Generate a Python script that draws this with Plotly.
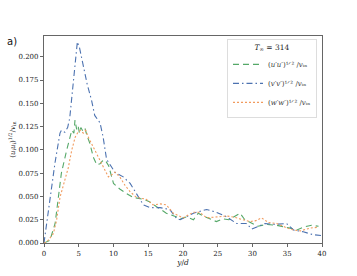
import plotly.graph_objects as go

# u'u' (green, dashed)
x_u = [0.0, 0.86, 1.6, 2.06, 2.5, 3.27, 3.74, 4.0, 4.3, 4.46, 4.7, 4.9, 5.1, 5.3, 5.6, 5.9, 6.2, 6.6, 7.1, 7.6, 8.06, 8.4, 8.8, 9.3, 10.0, 10.9, 11.9, 12.8, 14.3, 15.25, 16.2, 17.6, 19.1, 19.6, 20.5, 21.5, 22.2, 22.9, 24.8, 25.7, 26.6, 28.2, 28.9, 29.9, 30.8, 32.0, 33.5, 35.4, 36.4, 37.3, 38.5, 39.5]
y_u = [0.0, 0.003, 0.021, 0.049, 0.075, 0.100, 0.114, 0.121, 0.118, 0.132, 0.122, 0.126, 0.118, 0.124, 0.120, 0.123, 0.115, 0.107, 0.092, 0.084, 0.085, 0.088, 0.089, 0.083, 0.064, 0.058, 0.053, 0.049, 0.047, 0.044, 0.039, 0.032, 0.028, 0.026, 0.028, 0.025, 0.032, 0.029, 0.023, 0.026, 0.025, 0.032, 0.025, 0.021, 0.018, 0.020, 0.019, 0.016, 0.014, 0.017, 0.019, 0.018]

# v'v' (blue, dash-dot)
x_v = [0.0, 0.86, 1.58, 2.3, 2.5, 3.0, 3.4, 3.7, 4.1, 4.5, 4.8, 5.1, 5.65, 6.2, 6.85, 7.3, 8.06, 8.5, 9.0, 10.2, 11.4, 12.4, 13.3, 14.3, 15.25, 16.7, 18.1, 19.1, 19.6, 21.5, 23.4, 24.8, 26.3, 27.7, 29.1, 29.9, 31.8, 33.2, 34.9, 35.9, 37.3, 38.7, 40.0]
y_v = [0.0, 0.049, 0.086, 0.118, 0.121, 0.119, 0.124, 0.134, 0.165, 0.200, 0.216, 0.210, 0.191, 0.171, 0.153, 0.137, 0.129, 0.114, 0.090, 0.076, 0.071, 0.064, 0.053, 0.041, 0.038, 0.038, 0.036, 0.026, 0.025, 0.032, 0.036, 0.033, 0.028, 0.021, 0.021, 0.015, 0.021, 0.020, 0.021, 0.014, 0.012, 0.009, 0.008]

# w'w' (orange, dotted)
x_w = [0.0, 0.4, 1.34, 1.8, 2.3, 3.0, 3.5, 4.0, 4.5, 4.9, 5.2, 5.65, 6.0, 6.35, 7.1, 7.8, 8.5, 9.26, 9.7, 10.2, 10.9, 11.65, 12.4, 13.3, 14.7, 15.7, 16.7, 17.6, 18.6, 19.6, 20.0, 21.5, 22.4, 23.4, 24.8, 26.3, 27.2, 28.2, 29.6, 30.5, 31.3, 32.3, 33.5, 35.0, 35.9, 36.9, 38.3, 39.5]
y_w = [0.0, 0.001, 0.010, 0.024, 0.049, 0.067, 0.081, 0.100, 0.114, 0.119, 0.121, 0.118, 0.121, 0.114, 0.103, 0.094, 0.082, 0.071, 0.073, 0.076, 0.071, 0.062, 0.055, 0.049, 0.047, 0.041, 0.042, 0.041, 0.032, 0.028, 0.027, 0.033, 0.033, 0.027, 0.028, 0.029, 0.028, 0.026, 0.023, 0.024, 0.027, 0.022, 0.021, 0.016, 0.014, 0.013, 0.016, 0.017]

x_ticks = [0, 5, 10, 15, 20, 25, 30, 35, 40]
y_ticks = [0.0, 0.025, 0.05, 0.075, 0.1, 0.125, 0.15, 0.175, 0.2]

serif = "DejaVu Serif, Liberation Serif, serif"

fig = go.Figure()
fig.add_trace(go.Scatter(x=x_u, y=y_u, mode="lines",
                         name="(<i>u′u′</i>)¹ᐟ² /<i>v</i>ᵢₙ",
                         line=dict(color="#55a868", width=1.1, dash="6px,4px")))
fig.add_trace(go.Scatter(x=x_v, y=y_v, mode="lines",
                         name="(<i>v′v′</i>)¹ᐟ² /<i>v</i>ᵢₙ",
                         line=dict(color="#4c72b0", width=1.1, dash="6px,3px,1.5px,3px")))
fig.add_trace(go.Scatter(x=x_w, y=y_w, mode="lines",
                         name="(<i>w′w′</i>)¹ᐟ² /<i>v</i>ᵢₙ",
                         line=dict(color="#f19b5e", width=1.1, dash="2px,2px")))

fig.update_layout(
    width=357, height=276,
    margin=dict(l=44, r=35, t=36, b=33),
    plot_bgcolor="white", paper_bgcolor="white",
    font=dict(family=serif, size=7, color="#222"),
    showlegend=True,
    legend=dict(
        x=0.982, y=0.985, xanchor="right", yanchor="top",
        bgcolor="rgba(255,255,255,0.9)", bordercolor="#dddddd", borderwidth=1,
        font=dict(family=serif, size=7, color="#333"),
        title=dict(text="<i>T</i><sub>∞</sub> = 314", side="top center",
                   font=dict(family=serif, size=7.5, color="#222")),
        itemwidth=30, tracegroupgap=0,
    ),
    xaxis=dict(
        range=[0, 40], tickvals=x_ticks, ticktext=[str(v) for v in x_ticks],
        showgrid=False, zeroline=False, showline=True, linecolor="#666", linewidth=1.2,
        mirror=True, ticks="outside", ticklen=3, tickcolor="#666", automargin=False,
        tickfont=dict(family=serif, size=7),
        title=dict(text="<i>y</i>/<i>d</i>", font=dict(family=serif, size=7.5, color="#222"), standoff=2),
    ),
    yaxis=dict(
        range=[0, 0.2223], tickvals=y_ticks, ticktext=[f"{v:.3f}" for v in y_ticks],
        showgrid=False, zeroline=False, showline=True, linecolor="#666", linewidth=1.2,
        mirror=True, ticks="outside", ticklen=3, tickcolor="#666", automargin=False,
        tickfont=dict(family=serif, size=7),
        title=dict(text="(<i>u</i><sub>i</sub><i>u</i><sub>i</sub>)<sup>1/2</sup>/<i>v</i><sub>in</sub>",
                   font=dict(family=serif, size=7), standoff=2),
    ),
)

fig.add_annotation(text="a)", xref="paper", yref="paper", x=-0.115, y=0.975,
                   xanchor="center", yanchor="middle", showarrow=False,
                   font=dict(family="DejaVu Sans, sans-serif", size=10, color="#111"))

fig.write_html("out.html", config={"displayModeBar": False},
               post_script="document.body.style.margin='0';document.body.style.padding='0';document.body.style.overflow='hidden';")
